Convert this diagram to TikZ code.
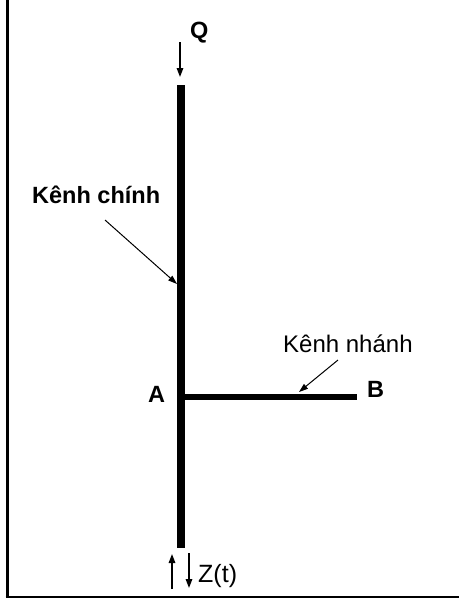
\documentclass[tikz,border=0pt]{standalone}
\usepackage{fontspec}
\setmainfont{Liberation Sans}
\usetikzlibrary{arrows.meta}
\begin{document}
\begin{tikzpicture}[x=1pt,y=-1pt,
  chan/.style={line width=7.5pt},
  branch/.style={line width=6pt},
  ptr/.style={line width=1pt,-{Triangle[length=9pt,width=6pt]}},
  flow/.style={line width=1.5pt,-{Triangle[length=9pt,width=6.5pt]}},
  boldlbl/.style={font=\fontsize{23.5}{26}\selectfont\bfseries, inner sep=0pt, anchor=base west},
  plainlbl/.style={font=\fontsize{24}{26}\selectfont, inner sep=0pt, anchor=base west}]
\useasboundingbox (0,0) rectangle (459,600);
% frame
\coordinate (f1) at (7,0);
\coordinate (f2) at (7,598);
\coordinate (f3) at (459,597);
\draw[line width=3pt] (f1) -- (f2);
\draw[line width=2pt] (5.5,597) -- (f3);
% channels
\coordinate (top) at (181,85);
\coordinate (bot) at (181,548);
\coordinate (A) at (181,397);
\coordinate (B) at (357,397);
\draw[chan] (top) -- (bot);
\draw[branch] (A) -- (B);
% labels
\node[boldlbl] (Q) at (190,38) {Q};
\node[boldlbl] (kc) at (32,203) {Kênh chính};
\node[boldlbl] (Alab) at (148,402) {A};
\node[boldlbl] (Blab) at (367,397) {B};
\node[plainlbl] (kn) at (283,352) {Kênh nhánh};
\node[plainlbl, font=\fontsize{25}{27}\selectfont] (Z) at (198,582) {Z(t)};
% arrows
\coordinate (q1) at (180,42);
\coordinate (q2) at (180,77);
\draw[flow] (q1) -- (q2);
\coordinate (kc1) at (105,220);
\coordinate (kc2) at (177,284);
\draw[ptr] (kc1) -- (kc2);
\coordinate (kn1) at (338,360);
\coordinate (kn2) at (299,392);
\draw[ptr] (kn1) -- (kn2);
\coordinate (u1) at (172,589);
\coordinate (u2) at (172,554);
\draw[flow] (u1) -- (u2);
\coordinate (d1) at (189,553);
\coordinate (d2) at (189,588);
\draw[flow] (d1) -- (d2);
\end{tikzpicture}
\end{document}
